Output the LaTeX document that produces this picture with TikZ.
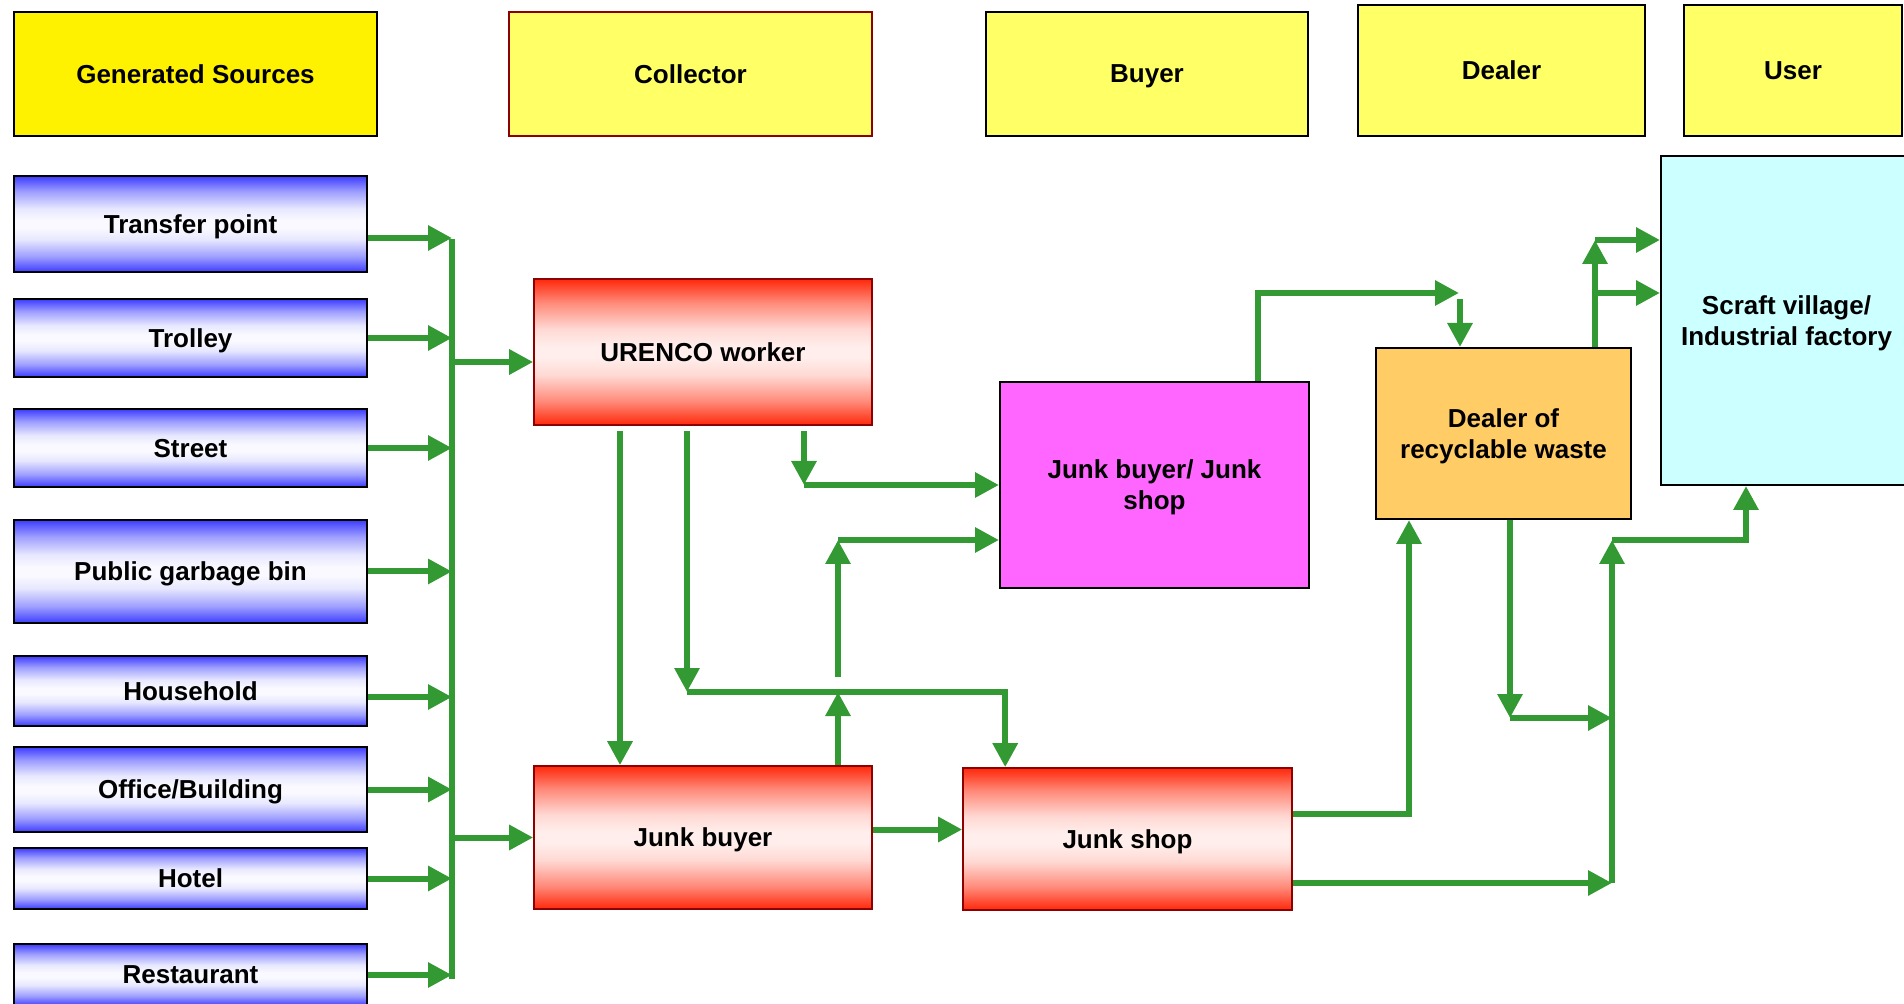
\documentclass[tikz,border=0pt]{standalone}
\usepackage{fontspec}
\setmainfont{Liberation Sans}
\usetikzlibrary{arrows.meta}

\definecolor{flowgreen}{RGB}{51,153,51}
\definecolor{hdryellow}{RGB}{255,255,102}
\definecolor{srcblue}{RGB}{60,60,255}
\definecolor{boxred}{RGB}{255,40,10}
\definecolor{darkred}{RGB}{140,0,0}
\definecolor{junkpink}{RGB}{255,102,255}
\definecolor{dealorange}{RGB}{255,204,102}
\definecolor{usercyan}{RGB}{204,255,255}

\pgfdeclareverticalshading{srcshade}{100bp}{color(0bp)=(srcblue); color(25bp)=(srcblue); color(33bp)=(srcblue!50!white); color(42bp)=(srcblue!12!white); color(48bp)=(srcblue!3!white); color(52bp)=(srcblue!3!white); color(58bp)=(srcblue!12!white); color(67bp)=(srcblue!50!white); color(75bp)=(srcblue); color(100bp)=(srcblue)}
\pgfdeclareverticalshading{redshade}{100bp}{color(0bp)=(boxred); color(25bp)=(boxred); color(33bp)=(boxred!55!white); color(42bp)=(boxred!18!white); color(48bp)=(boxred!8!white); color(52bp)=(boxred!8!white); color(58bp)=(boxred!18!white); color(67bp)=(boxred!55!white); color(75bp)=(boxred); color(100bp)=(boxred)}

\begin{document}
\begin{tikzpicture}[x=0.5pt,y=-0.5pt,
  every node/.style={font=\fontsize{13}{15.5}\selectfont\bfseries, align=center, inner sep=2pt, text depth=0pt},
  hdrbox/.style={draw=black, line width=1pt, fill=hdryellow},
  srcbox/.style={draw=black, line width=1pt, shading=srcshade, minimum width=176.5pt},
  redbox/.style={draw=darkred, line width=0.8pt, shading=redshade},
  flow/.style={draw=flowgreen, line width=3pt, -{Triangle[length=12pt,width=12pt]}},
  pipe/.style={draw=flowgreen, line width=3pt}]
\useasboundingbox (0,0) rectangle (1904,1004);

%%Header
\node[hdrbox, fill=yellow, minimum width=181.5pt, minimum height=62pt] (gen) at (195.5,74) {Generated Sources};
\node[hdrbox, draw=darkred, minimum width=181.5pt, minimum height=62pt] (coll) at (690.5,74) {Collector};
\node[hdrbox, minimum width=161pt, minimum height=62pt] (buyer) at (1147,74) {Buyer};
\node[hdrbox, minimum width=143.5pt, minimum height=65.5pt] (dealer) at (1501.5,70.5) {Dealer};
\node[hdrbox, minimum width=109pt, minimum height=65.5pt] (user) at (1793,70.5) {User};

%%Sources
\node[srcbox, minimum height=48pt] (tp) at (190.5,224) {Transfer point};
\node[srcbox, minimum height=39pt] (trolley) at (190.5,338) {Trolley};
\node[srcbox, minimum height=39pt] (street) at (190.5,448) {Street};
\node[srcbox, minimum height=51.5pt] (garbage) at (190.5,571.5) {Public garbage bin};
\node[srcbox, minimum height=35pt] (household) at (190.5,691) {Household};
\node[srcbox, minimum height=42.5pt] (office) at (190.5,789.5) {Office/Building};
\node[srcbox, minimum height=30.5pt] (hotel) at (190.5,878.5) {Hotel};
\node[srcbox, minimum height=31pt] (restaurant) at (190.5,975) {Restaurant};

%%Collectors, buyers, dealers, users
\node[redbox, minimum width=169pt, minimum height=73pt] (urenco) at (703,352) {URENCO worker};
\node[redbox, minimum width=169pt, minimum height=71.5pt] (jbuyer) at (703,837.5) {Junk buyer};
\node[redbox, minimum width=164.5pt, minimum height=71pt] (jshop) at (1127.5,839) {Junk shop};
\node[draw=black, line width=1pt, fill=junkpink, minimum width=154.5pt, minimum height=103pt] (jbshop) at (1154.5,485) {Junk buyer/ Junk\\shop};
\node[draw=black, line width=1pt, fill=dealorange, minimum width=127.5pt, minimum height=85.5pt] (dealerw) at (1503.5,433.5) {Dealer of\\recyclable waste};
\node[draw=black, line width=1pt, fill=usercyan, minimum width=125.5pt, minimum height=164.5pt] (factory) at (1786.5,320.5) {Scraft village/\\Industrial factory};

%%Junctions
\coordinate (bustop) at (452,239);
\coordinate (busbot) at (452,979);
\coordinate (u1) at (620,431);
\coordinate (u2) at (687,431);
\coordinate (u3) at (804,431);
\coordinate (j1) at (687,692);
\coordinate (j2) at (804,485);
\coordinate (j4) at (838,677);
\coordinate (j5) at (838,540);
\coordinate (j3) at (838,692);
\coordinate (r0) at (1612,883);
\coordinate (r1) at (1612,540);
\coordinate (r2) at (1746,540);
\coordinate (d1) at (1510,718);
\coordinate (d2) at (1595,240);
\coordinate (d3) at (1595,293);
\coordinate (m1) at (1258,293);
\coordinate (m2) at (1459,293);
\coordinate (m3) at (1460,299);

%%Sources to collectors
\draw[pipe] (bustop) -- (busbot);
\draw[flow] ([yshift=-7pt]tp.east) -- ([yshift=-7pt]tp.east -| bustop);
\draw[flow] (trolley.east) -- (trolley.east -| bustop);
\draw[flow] (street.east) -- (street.east -| bustop);
\draw[flow] (garbage.east) -- (garbage.east -| bustop);
\draw[flow] ([yshift=-3pt]household.east) -- ([yshift=-3pt]household.east -| bustop);
\draw[flow] (office.east) -- (office.east -| bustop);
\draw[flow] (hotel.east) -- (hotel.east -| bustop);
\draw[flow] (restaurant.east) -- (restaurant.east -| bustop);
\draw[flow] ([yshift=-5pt]urenco.west -| bustop) -- ([yshift=-5pt]urenco.west);
\draw[flow] (jbuyer.west -| bustop) -- (jbuyer.west);

%%Collectors to buyers
\draw[flow] (u1) -- (u1 |- jbuyer.north);
\draw[flow] (u2) -- (j1);
\draw[flow] (j1) -| ([xshift=21.5pt]jshop.north west);
\draw[flow] (u3) -- (j2);
\draw[flow] (j2) -- (j2 -| jbshop.west);
\draw[flow] (j3 |- jbuyer.north) -- (j3);
\draw[flow] (j4) -- (j5);
\draw[flow] (j5) -- (j5 -| jbshop.west);
\draw[flow] ([yshift=4pt]jbuyer.east) -- ([yshift=4pt]jbuyer.east -| jshop.west);

%%Buyers to dealer and users
\draw[flow] ([yshift=12.5pt]jshop.east) -| ([xshift=17pt]dealerw.south west);
\draw[flow] ([yshift=-22pt]jshop.east) -- (r0);
\draw[flow] (r0) -- (r1);
\draw[flow] (r1) -- (r2) -- (r2 |- factory.south);
\draw[flow] (m1 |- jbshop.north) -- (m1) -- (m2);
\draw[flow] (m3) -- (m3 |- dealerw.north);
\draw[flow] (d1 |- dealerw.south) -- (d1);
\draw[flow] (d1) -- (d1 -| r0);
\draw[flow] (d3 |- dealerw.north) -- (d2);
\draw[flow] (d2) -- (d2 -| factory.west);
\draw[flow] (d3) -- (d3 -| factory.west);
\end{tikzpicture}
\end{document}
